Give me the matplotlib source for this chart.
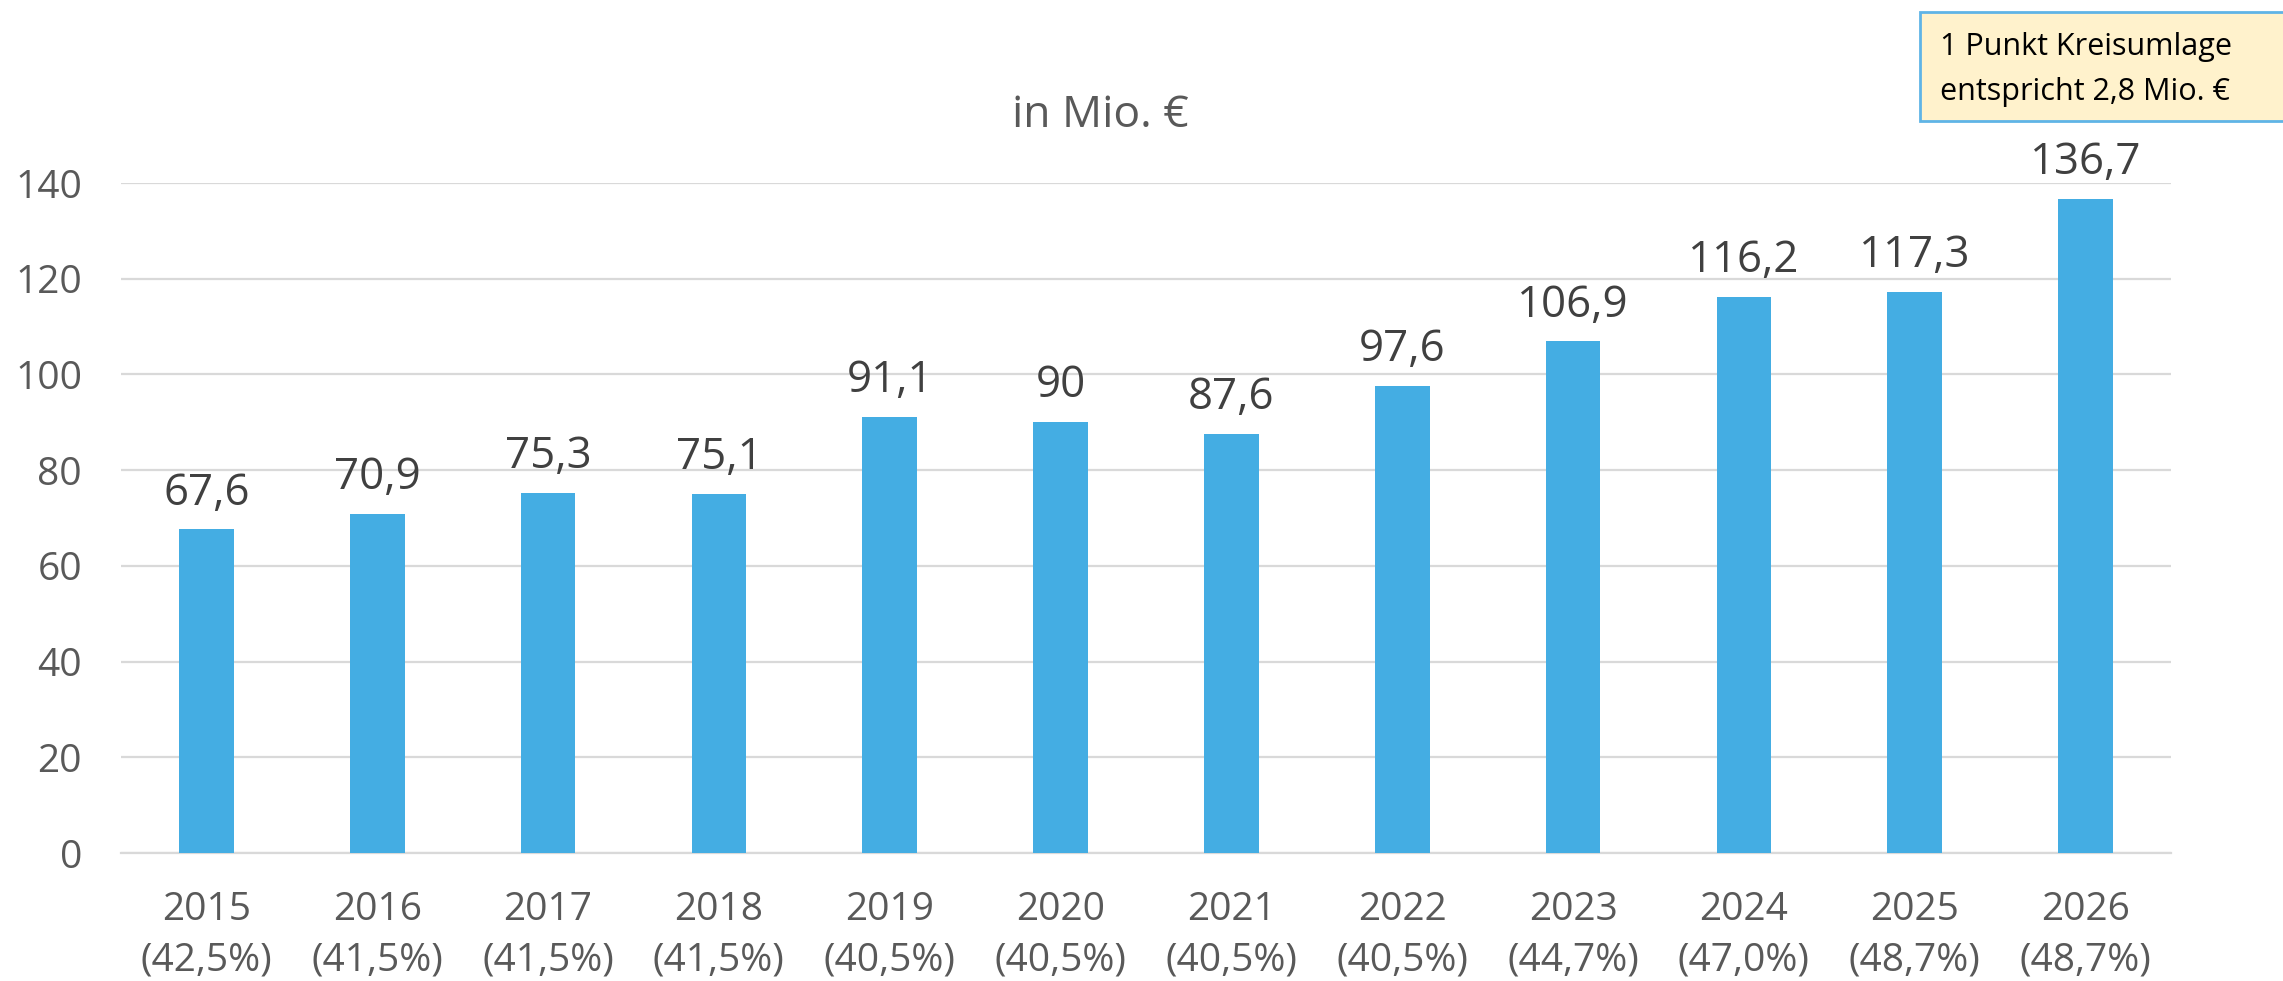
import matplotlib
matplotlib.use("Agg")
import matplotlib.pyplot as plt
from matplotlib.patches import Rectangle

plt.rcParams['font.family'] = ['Open Sans', 'DejaVu Sans']

# data
years = ["2015", "2016", "2017", "2018", "2019", "2020", "2021", "2022", "2023", "2024", "2025", "2026"]
rates = ["42,5%", "41,5%", "41,5%", "41,5%", "40,5%", "40,5%", "40,5%", "40,5%", "44,7%", "47,0%", "48,7%", "48,7%"]
values = [67.6, 70.9, 75.3, 75.1, 91.1, 90.0, 87.6, 97.6, 106.9, 116.2, 117.3, 136.7]
value_labels = ["67,6", "70,9", "75,3", "75,1", "91,1", "90", "87,6", "97,6", "106,9", "116,2", "117,3", "136,7"]
yticks = [0, 20, 40, 60, 80, 100, 120, 140]

W, H = 2283, 981
fig = plt.figure(figsize=(W / 100, H / 100), dpi=100)
ax = fig.add_axes([121 / W, 1 - 853 / H, (2171 - 121) / W, (853 - 183) / H])

x = list(range(len(years)))
ax.bar(x, values, width=0.32, color="#44ADE3", zorder=3)

for xi, v, lab in zip(x, values, value_labels):
    ax.annotate(lab, (xi, v), xytext=(0, 10), textcoords="offset points",
                ha="center", va="bottom", fontsize=31.5, color="#404040")

ax.set_xlim(-0.5, len(years) - 0.5)
ax.set_ylim(0, 140)
ax.set_yticks(yticks)
ax.set_yticklabels([str(t) for t in yticks])
ax.set_xticks(x)
ax.set_xticklabels([f"{y}\n({r})" for y, r in zip(years, rates)], linespacing=1.45)
ax.tick_params(axis="both", length=0, labelsize=28, labelcolor="#595959")
ax.tick_params(axis="y", pad=28)
ax.tick_params(axis="x", pad=27)
ax.grid(axis="y", color="#D9D9D9", linewidth=1.6, zorder=0)
for s in ["top", "right", "left"]:
    ax.spines[s].set_visible(False)
ax.spines["bottom"].set_color("#D9D9D9")
ax.spines["bottom"].set_linewidth(1.6)

fig.text(1100 / W, 1 - 127 / H, "in Mio. €", ha="center", va="baseline",
         fontsize=32, color="#595959")

# note box top right
fig.patches.append(Rectangle((1920 / W, 1 - 121 / H), (W + 20 - 1920) / W, 109 / H,
                             transform=fig.transFigure, facecolor="#FFF2CC",
                             edgecolor="#5FB4E6", linewidth=2, clip_on=False))
fig.text(1940 / W, 1 - 55 / H, "1 Punkt Kreisumlage", ha="left", va="baseline",
         fontsize=22, color="black")
fig.text(1940 / W, 1 - 100 / H, "entspricht 2,8 Mio. €", ha="left", va="baseline",
         fontsize=22, color="black")

fig.savefig("out.png", dpi=100)
